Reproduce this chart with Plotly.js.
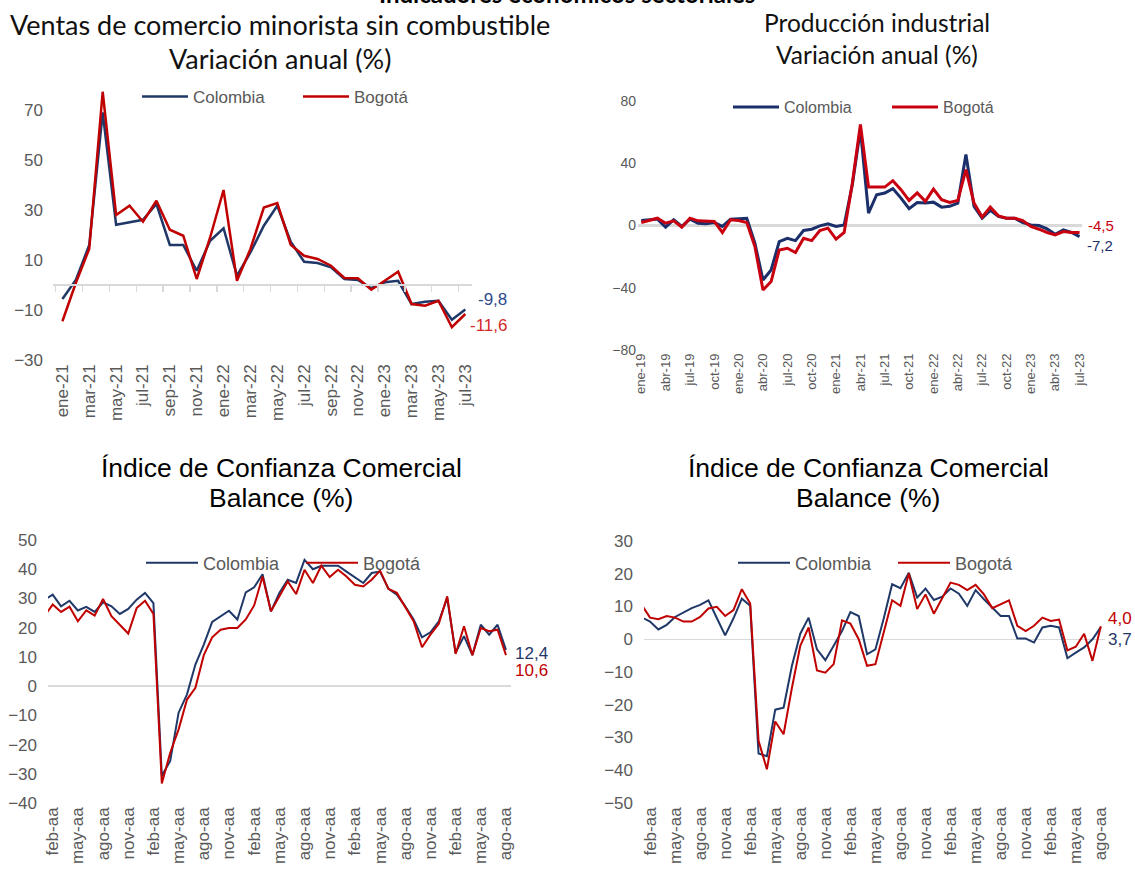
<!DOCTYPE html>
<html><head><meta charset="utf-8">
<script src="https://cdn.plot.ly/plotly-3.0.1.min.js"></script>
<style>html,body{margin:0;padding:0;background:#fff}#chart{width:1135px;height:872px}</style>
</head><body><div id="chart"></div>
<script>
// ---------- categories ----------
const MES = ['ene','feb','mar','abr','may','jun','jul','ago','sep','oct','nov','dic'];
function monthList(y0, m0, n){const a=[];for(let i=0;i<n;i++){const m=(m0+i)%12,y=y0+Math.floor((m0+i)/12);a.push(MES[m]+'-'+String(y).padStart(2,'0'));}return a;}
const monthsVentas = monthList(21,0,31);   // ene-21 .. jul-23
const monthsProd   = monthList(19,0,55);   // ene-19 .. jul-23
const monthsConf   = monthList(19,0,56);   // ene-19 .. ago-23

// ---------- series ----------
const ventasColombia = [-5.6,2.0,16.0,69.0,24.1,25.0,26.1,32.4,16.0,16.0,5.7,17.7,22.7,3.7,13.0,23.7,31.7,17.3,9.3,8.8,7.1,2.4,2.0,-1.3,1.1,1.7,-7.6,-6.7,-6.3,-13.9,-9.8];
const ventasBogota   = [-14.5,0.8,14.5,77.3,28.0,31.7,25.3,33.7,22.1,19.7,2.4,19.0,38.0,1.7,14.4,31.0,32.8,16.1,11.7,10.4,7.7,2.8,2.7,-1.9,1.7,5.3,-7.6,-8.3,-6.3,-16.9,-11.6];

const prodColombia = [3.2,3.7,4.1,-1.1,3.7,-0.6,4.1,1.5,1.1,1.9,-0.6,4.1,4.3,4.7,-11.4,-35.0,-28.6,-10.3,-8.2,-9.7,-3.2,-2.4,-0.2,1.1,-0.6,0.4,26.0,61.7,8.0,19.8,20.9,23.7,17.6,10.8,14.8,14.4,15.0,11.8,12.3,14.4,45.6,12.3,4.7,9.7,5.8,4.7,4.7,1.9,0.4,0.0,-2.2,-5.6,-2.8,-4.5,-7.2];
const prodBogota   = [1.9,3.2,4.7,1.5,3.0,-1.1,4.7,3.0,3.0,2.6,-4.5,3.7,3.2,1.9,-13.5,-41.5,-36.0,-15.7,-14.6,-17.4,-8.2,-9.7,-3.2,-1.7,-8.8,-4.5,27.0,65.0,24.7,24.7,24.7,28.8,23.0,16.1,20.9,15.5,23.4,16.6,14.8,16.1,35.9,14.4,5.4,11.8,6.2,4.7,4.7,3.2,-0.6,-2.4,-4.5,-6.0,-3.9,-4.5,-4.5];

const conf1Colombia = [29.5,31.3,27.3,29.2,25.9,27.1,25.4,28.7,27.3,24.7,26.4,29.6,31.9,28.4,-30.7,-25.6,-9.1,-2.8,7.4,14.2,22.0,23.9,25.8,22.8,32.1,33.8,38.3,25.6,31.9,36.4,35.3,43.2,40.0,41.2,41.2,41.2,39.2,37.2,35.3,38.7,39.2,33.3,31.3,27.3,22.8,16.7,18.4,22.2,30.1,11.4,17.1,10.6,21.0,17.6,21.0,12.4];
const conf1Bogota   = [23.9,27.9,25.4,27.2,22.2,25.9,24.1,29.8,23.9,20.8,18.0,26.7,29.2,24.7,-33.3,-22.8,-14.8,-4.6,-0.6,10.6,16.7,19.3,19.9,19.9,22.8,27.6,37.5,25.6,30.7,35.8,31.5,39.8,35.3,41.2,37.3,39.8,37.5,34.7,34.1,36.4,39.5,33.3,31.9,27.0,22.2,13.3,17.6,21.3,30.7,11.0,20.5,10.6,19.9,18.8,19.3,10.6];

const conf2Colombia = [6.7,5.4,3.0,4.4,6.8,8.1,9.5,10.5,11.9,6.5,1.2,6.4,12.4,10.2,-34.9,-35.7,-21.5,-20.9,-8.1,1.7,6.6,-3.1,-6.4,-2.0,2.5,8.3,7.1,-4.6,-3.1,6.4,16.8,15.6,20.3,12.7,15.5,12.0,13.0,15.5,13.9,10.2,15.0,12.2,9.5,7.1,7.1,0.2,0.2,-1.0,3.6,4.1,3.6,-5.8,-4.1,-2.5,0.0,3.7];
const conf2Bogota   = [10.5,6.6,6.1,7.1,6.6,5.4,5.4,6.8,9.4,9.9,7.1,8.9,15.3,10.9,-31.0,-39.7,-25.1,-29.0,-14.8,-2.0,3.6,-9.5,-10.2,-7.6,5.8,4.8,0.0,-8.1,-7.6,2.5,11.9,10.2,20.1,9.2,13.7,7.8,12.7,17.3,16.6,15.0,16.6,13.7,9.5,10.7,11.9,4.1,2.5,4.1,6.6,5.6,6.0,-3.4,-2.3,1.7,-6.6,4.0];

// ---------- tick labels ----------
const ventasTicks = monthsVentas.filter((m,i)=>i%2===0);
const prodTicks   = monthsProd.filter((m,i)=>i%3===0);
const confTickVals = monthsConf.filter((m,i)=>i%3===1);
const confTickText = ['feb-aa','may-aa','ago-aa','nov-aa','feb-aa','may-aa','ago-aa','nov-aa','feb-aa','may-aa','ago-aa','nov-aa','feb-aa','may-aa','ago-aa','nov-aa','feb-aa','may-aa','ago-aa'];

const endLabels = {ventas:['-9,8','-11,6'], prod:['-7,2','-4,5'], conf1:['12,4','10,6'], conf2:['3,7','4,0']};

// ---------- styling helpers ----------
const W=1135, H=872;
const px = (a,b)=>[a/W,b/W];
const py = (top,bot)=>[1-bot/H,1-top/H];
const BLUE='#1F3868', RED='#C00000', GREY='#595959';
const ARIAL='Liberation Sans, Arial, sans-serif';
const CAL='Lato, Carlito, sans-serif';

function line(x,y,name,color,w,xa,ya,leg){
  return {type:'scatter',mode:'lines',x:x,y:y,name:name,line:{color:color,width:w},xaxis:xa,yaxis:ya,legend:leg,hoverinfo:'x+y+name'};
}
const traces=[
  line(monthsVentas,ventasColombia,'Colombia',BLUE,2.5,'x','y','legend'),
  line(monthsVentas,ventasBogota,'Bogotá',RED,2.5,'x','y','legend'),
  line(monthsProd,prodColombia,'Colombia','#1B2F6B',3,'x2','y2','legend2'),
  line(monthsProd,prodBogota,'Bogotá','#C8000F',3,'x2','y2','legend2'),
  line(monthsConf,conf1Colombia,'Colombia',BLUE,2,'x3','y3','legend3'),
  line(monthsConf,conf1Bogota,'Bogotá',RED,2,'x3','y3','legend3'),
  line(monthsConf,conf2Colombia,'Colombia',BLUE,2,'x4','y4','legend4'),
  line(monthsConf,conf2Bogota,'Bogotá',RED,2,'x4','y4','legend4'),
  {type:'scatter',mode:'lines',x:[],y:[],xaxis:'x5',yaxis:'y',showlegend:false,hoverinfo:'skip'}
];

// panel-1 zero-line position in paper coords
const d1y = py(85,360), r1y=[-30,80];
const zeroPos1 = d1y[0] + (0-r1y[0])/(r1y[1]-r1y[0])*(d1y[1]-d1y[0]);
const sepTicks1 = []; for(let i=0;i<monthsVentas.length;i+=2) sepTicks1.push(i-0.5);

const tf = (s)=>({family:ARIAL,size:s,color:GREY});
const baseX = {type:'category',showgrid:false,zeroline:false,showline:false,ticks:'',tickangle:-90,fixedrange:true};
const baseY = {showgrid:false,showline:false,ticks:'',fixedrange:true};

const layout={
  width:W,height:H,margin:{l:0,r:0,t:0,b:0},paper_bgcolor:'#fff',plot_bgcolor:'rgba(0,0,0,0)',
  showlegend:true,
  xaxis: Object.assign({},baseX,{domain:px(53,472),range:[-0.7,30.5],tickvals:ventasTicks,ticktext:ventasTicks,tickfont:tf(17),anchor:'y'}),
  yaxis: Object.assign({},baseY,{domain:d1y,range:r1y,tickvals:[-30,-10,10,30,50,70],zeroline:false,tickfont:tf(17),ticklabelstandoff:9,anchor:'x'}),
  xaxis5:{overlaying:'x',anchor:'free',position:zeroPos1,domain:px(53,472),type:'linear',range:[-0.7,30.5],showline:true,linecolor:'#D9D9D9',linewidth:2,
          ticks:'outside',tickvals:sepTicks1,ticklen:6,tickwidth:1.5,tickcolor:'#D9D9D9',showticklabels:false,showgrid:false,zeroline:false,fixedrange:true},
  xaxis2: Object.assign({},baseX,{domain:px(638,1082),range:[-0.4,54.3],tickvals:prodTicks,ticktext:prodTicks,tickfont:tf(13),anchor:'y2'}),
  yaxis2: Object.assign({},baseY,{domain:py(101,350),range:[-80,80],tickvals:[-80,-40,0,40,80],zeroline:true,zerolinecolor:'#D9D9D9',zerolinewidth:3.5,tickfont:tf(14),ticklabelstandoff:1,anchor:'x2'}),
  xaxis3: Object.assign({},baseX,{domain:px(48,511),range:[0.44,55.6],tickvals:confTickVals,ticktext:confTickText,tickfont:tf(17),anchor:'y3'}),
  yaxis3: Object.assign({},baseY,{domain:py(540,803),range:[-40,50],dtick:10,zeroline:true,zerolinecolor:'#D9D9D9',zerolinewidth:1.5,tickfont:tf(17),ticklabelstandoff:10,anchor:'x3'}),
  xaxis4: Object.assign({},baseX,{domain:px(644,1105),range:[0.28,55.5],tickvals:confTickVals,ticktext:confTickText,tickfont:tf(17),anchor:'y4'}),
  yaxis4: Object.assign({},baseY,{domain:py(541,803),range:[-50,30],dtick:10,zeroline:true,zerolinecolor:'#D9D9D9',zerolinewidth:1.5,tickfont:tf(17),ticklabelstandoff:10,anchor:'x4'}),
  legend: {x:137/W,y:1-97/H,xanchor:'left',yanchor:'middle',orientation:'h',font:{family:ARIAL,size:17,color:GREY},bgcolor:'rgba(0,0,0,0)',itemwidth:46,entrywidth:100,itemclick:false,itemdoubleclick:false},
  legend2:{x:728/W,y:1-107/H,xanchor:'left',yanchor:'middle',orientation:'h',font:{family:ARIAL,size:16,color:GREY},bgcolor:'rgba(0,0,0,0)',itemwidth:46,entrywidth:98,itemclick:false,itemdoubleclick:false},
  legend3:{x:141/W,y:1-563/H,xanchor:'left',yanchor:'middle',orientation:'h',font:{family:ARIAL,size:18,color:GREY},bgcolor:'rgba(0,0,0,0)',itemwidth:52,entrywidth:93,itemclick:false,itemdoubleclick:false},
  legend4:{x:733/W,y:1-563/H,xanchor:'left',yanchor:'middle',orientation:'h',font:{family:ARIAL,size:18,color:GREY},bgcolor:'rgba(0,0,0,0)',itemwidth:52,entrywidth:93,itemclick:false,itemdoubleclick:false},
  annotations:[]
};

function ann(text,xp,yp,font,extra){return Object.assign({text:text,xref:'paper',yref:'paper',x:xp/W,y:1-yp/H,showarrow:false,font:font,xanchor:'center',yanchor:'middle'},extra||{});}
const A=layout.annotations;
A.push(ann('<b>Indicadores económicos sectoriales</b>',567,-6,{family:CAL,size:24,color:'#000'}));
A.push(ann('Ventas de comercio minorista sin combustible',280,24,{family:CAL,size:27,color:'#111'}));
A.push(ann('Variación anual (%)',280,59,{family:CAL,size:27,color:'#111'}));
A.push(ann('Producción industrial',877,22,{family:CAL,size:24.5,color:'#111'}));
A.push(ann('Variación anual (%)',877,55,{family:CAL,size:24.5,color:'#111'}));
A.push(ann('Índice de Confianza Comercial',281,468,{family:ARIAL,size:26.5,color:'#000'}));
A.push(ann('Balance (%)',281,498,{family:ARIAL,size:26.5,color:'#000'}));
A.push(ann('Índice de Confianza Comercial',868,468,{family:ARIAL,size:26.5,color:'#000'}));
A.push(ann('Balance (%)',868,498,{family:ARIAL,size:26.5,color:'#000'}));

function endAnn(xa,ya,xcat,yv,text,color,size,xs,ys){
  return {text:text,xref:xa,yref:ya,x:xcat,y:yv,showarrow:false,xanchor:'left',yanchor:'middle',xshift:xs,yshift:ys,font:{family:ARIAL,size:size,color:color}};
}
const lastV=monthsVentas.length-1, lastP=monthsProd.length-1, lastC=monthsConf.length-1;
A.push(endAnn('x','y',monthsVentas[lastV],ventasColombia[lastV],endLabels.ventas[0],'#2E4A8C',17,11,10));
A.push(endAnn('x','y',monthsVentas[lastV],ventasBogota[lastV],endLabels.ventas[1],'#D42A2A',17,3,-12));
A.push(endAnn('x2','y2',monthsProd[lastP],prodColombia[lastP],endLabels.prod[0],'#1B2F6B',15,5,-9));
A.push(endAnn('x2','y2',monthsProd[lastP],prodBogota[lastP],endLabels.prod[1],'#C8000F',15,6,7));
A.push(endAnn('x3','y3',monthsConf[lastC],conf1Colombia[lastC],endLabels.conf1[0],'#1F3868',17,7,-4));
A.push(endAnn('x3','y3',monthsConf[lastC],conf1Bogota[lastC],endLabels.conf1[1],'#C00000',17,7,-15));
A.push(endAnn('x4','y4',monthsConf[lastC],conf2Colombia[lastC],endLabels.conf2[0],'#1F3868',17,5,-12));
A.push(endAnn('x4','y4',monthsConf[lastC],conf2Bogota[lastC],endLabels.conf2[1],'#C00000',17,5,8));

Plotly.newPlot('chart',traces,layout,{staticPlot:true,displayModeBar:false});
</script></body></html>
